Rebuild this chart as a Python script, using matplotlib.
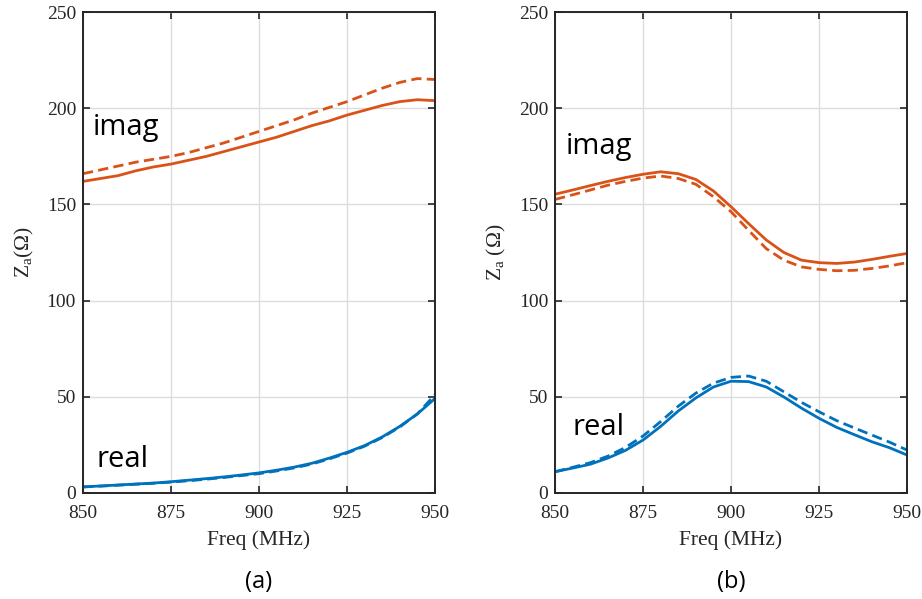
import matplotlib
matplotlib.use("Agg")
import matplotlib.pyplot as plt

freq = [850, 855, 860, 865, 870, 875, 880, 885, 890, 895, 900,
        905, 910, 915, 920, 925, 930, 935, 940, 945, 950]

# (a)
a_imag_meas = [162, 163.5, 165, 167.5, 169.5, 171, 173, 175, 177.5, 180, 182.5,
               185, 188, 191, 193.5, 196.5, 199, 201.5, 203.5, 204.5, 204]
a_imag_sim = [166, 168, 170, 172, 173.5, 175, 177, 179.5, 182, 185, 188,
              191, 194, 197.5, 200.5, 203.5, 207, 210.5, 213.5, 215.5, 215]
a_real_meas = [3, 3.5, 4, 4.5, 5, 5.7, 6.5, 7.3, 8.2, 9.2, 10.3,
               11.7, 13.3, 15.3, 18, 21, 24.5, 29, 34.5, 41, 49]
a_real_sim = [3, 3.4, 3.9, 4.4, 4.9, 5.5, 6.2, 7.0, 7.9, 8.9, 9.9,
              11.3, 12.9, 14.9, 17.6, 20.6, 24.2, 28.7, 34.2, 41, 51]

# (b)
b_imag_meas = [155.3, 157.5, 159.8, 162, 164, 165.7, 167, 166, 163, 157, 148.8,
               140, 131.5, 125, 121, 119.7, 119.3, 120, 121.4, 123, 124.5]
b_imag_sim = [152.6, 155, 157.5, 160, 162, 163.7, 164.8, 163.5, 160.5, 154, 146.2,
              136.5, 127, 121, 117.5, 116.2, 115.5, 115.7, 116.7, 118, 119.7]
b_real_meas = [10.9, 12.8, 14.8, 18, 22, 27.4, 34.5, 42.5, 49.3, 55, 58,
               57.8, 55, 49.8, 44, 38.7, 34, 30.2, 26.5, 23.4, 19.6]
b_real_sim = [10.9, 13.2, 15.6, 19, 23.5, 29.5, 37, 45, 51.8, 57, 60,
              60.7, 58, 52.5, 47, 42.1, 37.5, 33.7, 30, 26.3, 22.2]

xticks = [850, 875, 900, 925, 950]
yticks = [0, 50, 100, 150, 200, 250]

ORANGE = "#D95319"
BLUE = "#0072BD"
AXC = "#262626"
SERIF = "Liberation Serif"
SANS = "Open Sans"

plt.rcParams["mathtext.fontset"] = "custom"
plt.rcParams["mathtext.rm"] = SERIF
plt.rcParams["mathtext.it"] = SERIF + ":italic"

fig = plt.figure(figsize=(9.22, 5.99), dpi=100)

panels = [
    (0.0900, a_imag_meas, a_imag_sim, a_real_meas, a_real_sim,
     r"Z$_{\mathrm{a}}$(Ω)", (852.8, 186.0), (853.7, 13.5), "(a)"),
    (0.6020, b_imag_meas, b_imag_sim, b_real_meas, b_real_sim,
     r"Z$_{\mathrm{a}}$ (Ω)", (853.1, 176.0), (855.1, 30.0), "(b)"),
]

for left, im, isim, rm, rsim, ylab, imag_pos, real_pos, tag in panels:
    ax = fig.add_axes([left, 0.1775, 0.3818, 0.802])
    ax.plot(freq, im, color=ORANGE, lw=2.0)
    ax.plot(freq, isim, color=ORANGE, lw=2.0, ls=(0, (3.7, 1.9)))
    ax.plot(freq, rm, color=BLUE, lw=2.0)
    ax.plot(freq, rsim, color=BLUE, lw=2.0, ls=(0, (3.7, 1.9)))
    ax.set_xlim(850, 950)
    ax.set_ylim(0, 250)
    ax.set_xticks(xticks)
    ax.set_yticks(yticks)
    ax.grid(True, color="#dcdcdc", lw=1.0)
    ax.set_axisbelow(True)
    for sp in ax.spines.values():
        sp.set_color(AXC)
        sp.set_linewidth(1.4)
    ax.tick_params(direction="in", top=True, right=True, length=5, width=1.2,
                   color=AXC, labelcolor=AXC, labelsize=14)
    ax.tick_params(axis="x", pad=9)
    ax.tick_params(axis="y", pad=5)
    for lab in ax.get_xticklabels() + ax.get_yticklabels():
        lab.set_fontfamily(SERIF)
    ax.set_xlabel("Freq (MHz)", fontfamily=SERIF, fontsize=15.5, color=AXC, labelpad=6)
    ax.set_ylabel(ylab, fontfamily=SERIF, fontsize=15.5, color=AXC, labelpad=8)
    ax.text(imag_pos[0], imag_pos[1], "imag", fontfamily=SANS, fontsize=21,
            va="baseline", ha="left", color="black")
    ax.text(real_pos[0], real_pos[1], "real", fontfamily=SANS, fontsize=21,
            va="baseline", ha="left", color="black")
    ax.text(0.5, -0.185, tag, transform=ax.transAxes, fontfamily=SANS, fontsize=17,
            ha="center", va="center", color="black")

fig.savefig("out.png", dpi=100)
